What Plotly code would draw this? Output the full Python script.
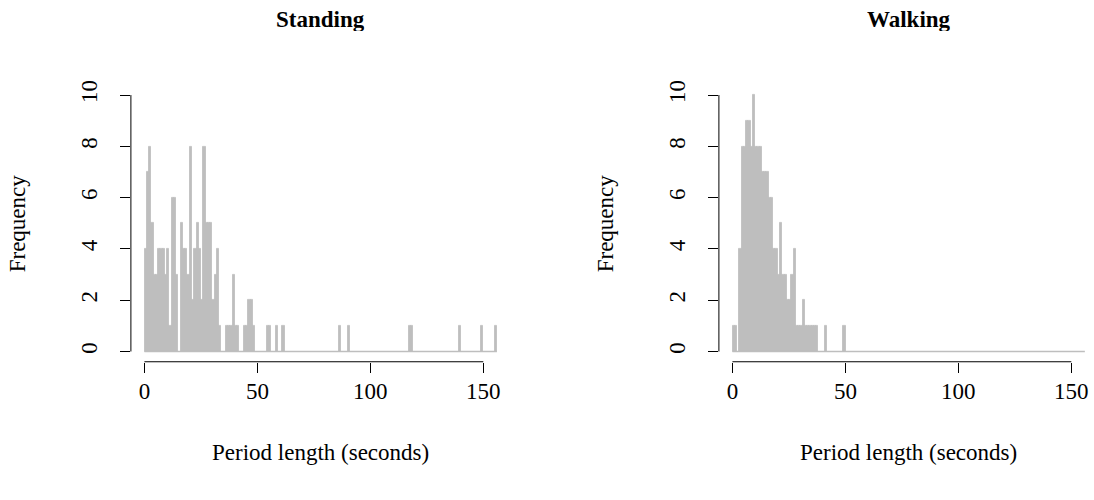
import plotly.graph_objects as go

# ---------------- data ----------------
standing_left = [0, 1, 2, 3, 4, 5, 6, 7, 8, 9, 10, 11, 12, 13, 14,
                 16, 17, 18, 19, 20, 21, 22, 23, 24, 25, 26, 27, 28, 29, 30, 31, 32, 33,
                 36, 37, 38, 39, 40, 41,
                 44, 45, 46, 47, 48,
                 54, 55, 58, 61, 86, 90, 117, 118, 139, 149, 155]
standing_freq = [4, 7, 8, 5, 3, 3, 4, 4, 4, 3, 4, 1, 6, 6, 3,
                 5, 4, 4, 3, 8, 2, 4, 5, 4, 2, 8, 5, 5, 5, 2, 3, 4, 1,
                 1, 1, 1, 3, 1, 1,
                 1, 1, 2, 2, 1,
                 1, 1, 1, 1, 1, 1, 1, 1, 1, 1, 1]

walking_left = [0, 1, 3, 4, 5, 6, 7, 8, 9, 10, 11, 12, 13, 14, 15, 16, 17, 18, 19, 20,
                21, 22, 23, 24, 25, 26, 27, 28, 29, 30, 31, 32, 33, 34, 35, 36, 37, 41, 49]
walking_freq = [1, 1, 4, 8, 8, 9, 9, 8, 10, 8, 8, 8, 7, 7, 7, 6, 6, 4, 4, 3,
                5, 3, 3, 2, 2, 3, 4, 1, 1, 1, 2, 1, 1, 1, 1, 1, 1, 1, 1]

bin_width = 1
hist_start, hist_end = 0, 156
x_ticks = [0, 50, 100, 150]
y_ticks = [0, 2, 4, 6, 8, 10]
panel_titles = ["Standing", "Walking"]
x_label = "Period length (seconds)"
y_label = "Frequency"

# ---------------- layout geometry ----------------
W, H = 1094, 500
FONT = "Liberation Serif"
FS = 23
BAR = "#BEBEBE"
ppu = 2.259                  # pixels per second
panel_left_px = [130.9, 718.9]
x_min = -6


def fx(px):
    return px / W


def fy(py):
    return 1 - py / H


ydom = [fy(360.36), fy(80.6)]
y_range = [-0.4, 10.4]

fig = go.Figure()
series = [(standing_left, standing_freq), (walking_left, walking_freq)]

for k, (lefts, freqs) in enumerate(series):
    xa = "x" if k == 0 else "x2"
    ya = "y" if k == 0 else "y2"
    fig.add_trace(go.Scatter(x=[hist_start, hist_end], y=[0, 0], mode="lines",
                             line=dict(color=BAR, width=1.5), xaxis=xa, yaxis=ya,
                             showlegend=False, hoverinfo="skip"))
    fig.add_trace(go.Bar(x=[l + bin_width / 2 for l in lefts], y=freqs, width=bin_width,
                         marker=dict(color=BAR, line=dict(color=BAR, width=0.8)),
                         xaxis=xa, yaxis=ya, showlegend=False))

axis_common = dict(showgrid=False, zeroline=False, showline=False, ticks="outside",
                   ticklen=10, tickwidth=1, tickcolor="black",
                   tickfont=dict(family=FONT, size=FS, color="black"))

layout = dict(width=W, height=H, margin=dict(l=0, r=0, t=0, b=0),
              paper_bgcolor="white", plot_bgcolor="white", bargap=0,
              font=dict(family=FONT, size=FS, color="black"))

shapes = []
annotations = []
for k in range(2):
    left_px = panel_left_px[k]
    right_px = min(left_px + 168.0 * ppu, W)
    xdom = [fx(left_px), min(fx(right_px), 1.0)]
    x_range = [x_min, x_min + (right_px - left_px) / ppu]
    sx = "" if k == 0 else "2"
    layout["xaxis" + sx] = dict(domain=xdom, range=x_range, anchor="y" + sx,
                                tickvals=x_ticks, ticklabelstandoff=-1, **axis_common)
    layout["yaxis" + sx] = dict(domain=ydom, range=y_range, anchor="x" + sx,
                                tickvals=y_ticks, tickangle=-90, ticklabelstandoff=14,
                                **axis_common)
    shapes.append(dict(type="line", xref="x" + sx, yref="paper", x0=x_ticks[0], x1=x_ticks[-1],
                       y0=ydom[0], y1=ydom[0], line=dict(color="black", width=1)))
    shapes.append(dict(type="line", xref="paper", yref="y" + sx, x0=xdom[0], x1=xdom[0],
                       y0=y_ticks[0], y1=y_ticks[-1], line=dict(color="black", width=1)))
    cx = fx(left_px + 168.0 * ppu / 2)
    annotations.append(dict(text="<b>" + panel_titles[k] + "</b>", x=cx, y=fy(14),
                            xref="paper", yref="paper", showarrow=False,
                            xanchor="center", yanchor="middle", height=24,
                            font=dict(family=FONT, size=FS, color="black")))
    annotations.append(dict(text=x_label, x=cx, y=fy(452), xref="paper", yref="paper",
                            showarrow=False, xanchor="center", yanchor="middle",
                            font=dict(family=FONT, size=FS, color="black")))
    annotations.append(dict(text=y_label, x=fx(17 + 588 * k), y=fy(220.5),
                            xref="paper", yref="paper", showarrow=False, textangle=-90,
                            xanchor="center", yanchor="middle",
                            font=dict(family=FONT, size=FS, color="black")))

layout["shapes"] = shapes
layout["annotations"] = annotations
fig.update_layout(**layout)
fig.write_html("out.html", config={"displayModeBar": False},
               post_script="document.body.style.margin='0px';")
